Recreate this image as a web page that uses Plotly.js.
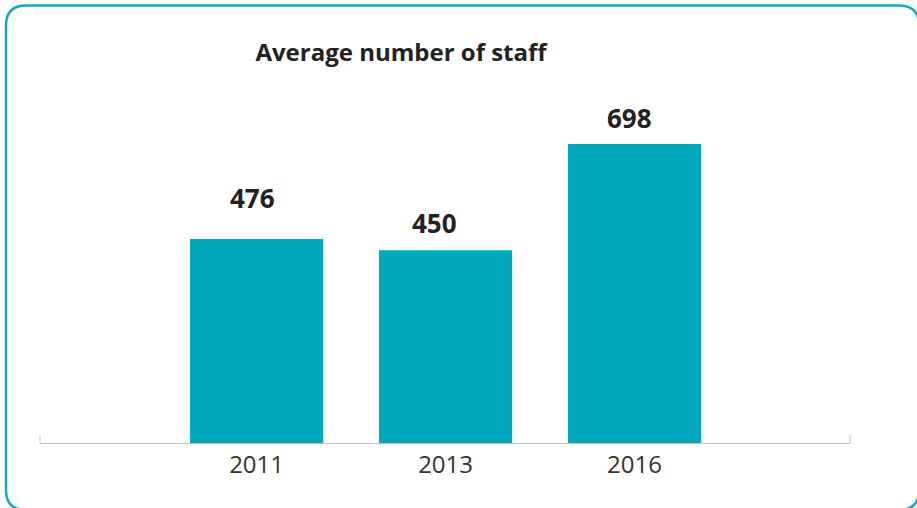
<!DOCTYPE html>
<html>
<head>
<meta charset="utf-8">
<script src="https://cdn.plot.ly/plotly-3.0.1.min.js"></script>
<style>
html,body{margin:0;padding:0;background:#fff;}
#chart{width:917px;height:508px;}
</style>
</head>
<body>
<div id="chart"></div>
<script>
var years = ["2011", "2013", "2016"];
var staff = [476, 450, 698];
var valueLabels = ["476", "450", "698"];
var chartTitle = "Average number of staff";

// label placement tweaks (pixels), style only
var labelDX = [-4, -11, -5.5];
var labelDY = [21, 7, 6];

var W = 917, H = 508;
var mL = 40, mR = 67, mT = 60, mB = 65;
var plotW = W - mL - mR, plotH = H - mT - mB;
function px(X){ return (X - mL) / plotW; }
function py(Y){ return (H - mB - Y) / plotH; }

// rounded border frame
var bx0 = 6, by0 = 5.5, bx1 = 919, by1 = 510, r = 20;
var framePath =
  "M " + px(bx0 + r) + "," + py(by0) +
  " L " + px(bx1 - r) + "," + py(by0) +
  " Q " + px(bx1) + "," + py(by0) + " " + px(bx1) + "," + py(by0 + r) +
  " L " + px(bx1) + "," + py(by1 - r) +
  " Q " + px(bx1) + "," + py(by1) + " " + px(bx1 - r) + "," + py(by1) +
  " L " + px(bx0 + r) + "," + py(by1) +
  " Q " + px(bx0) + "," + py(by1) + " " + px(bx0) + "," + py(by1 - r) +
  " L " + px(bx0) + "," + py(by0 + r) +
  " Q " + px(bx0) + "," + py(by0) + " " + px(bx0 + r) + "," + py(by0) + " Z";

var teal = "#00A8BD";

var trace = {
  type: "bar",
  x: years,
  y: staff,
  marker: {color: teal},
  width: 0.704,
  hoverinfo: "x+y"
};

// annotation x uses the category index (numeric-looking category strings
// would otherwise be read as positions)
var annotations = years.map(function(yr, i){
  return {
    x: i, y: staff[i], xref: "x", yref: "y",
    text: "<b>" + valueLabels[i] + "</b>",
    showarrow: false, yanchor: "bottom", yshift: labelDY[i], xshift: labelDX[i],
    font: {family: "Open Sans, sans-serif", size: 26, color: "#222222"}
  };
});

var layout = {
  width: W, height: H,
  margin: {l: mL, r: mR, t: mT, b: mB, pad: 0},
  paper_bgcolor: "#ffffff",
  plot_bgcolor: "#ffffff",
  showlegend: false,
  title: {
    text: "<b>" + chartTitle + "</b>",
    x: 401 / W, xanchor: "center",
    y: 1 - 53 / H, yanchor: "middle",
    font: {family: "Open Sans, sans-serif", size: 24, color: "#222222"}
  },
  xaxis: {
    type: "category",
    range: [-1.146, 3.14],
    showline: true, linecolor: "#c4c4c4", linewidth: 1,
    showgrid: false, zeroline: false, ticks: "",
    tickfont: {family: "Open Sans, sans-serif", size: 24, color: "#333333"},
    fixedrange: true
  },
  yaxis: {
    range: [0, plotH / 0.4285],
    showticklabels: false, showline: false, ticks: "",
    showgrid: false, zeroline: false,
    fixedrange: true
  },
  annotations: annotations,
  shapes: [
    {type: "path", xref: "paper", yref: "paper", path: framePath,
     line: {color: "#14A9BD", width: 2.5}, fillcolor: "rgba(0,0,0,0)", layer: "above"},
    {type: "line", xref: "paper", yref: "paper", x0: 0, x1: 0, y0: 0, y1: 8 / plotH,
     line: {color: "#c4c4c4", width: 1}},
    {type: "line", xref: "paper", yref: "paper", x0: 1, x1: 1, y0: 0, y1: 8 / plotH,
     line: {color: "#c4c4c4", width: 1}}
  ]
};

Plotly.newPlot("chart", [trace], layout, {displayModeBar: false, staticPlot: true});
</script>
</body>
</html>
